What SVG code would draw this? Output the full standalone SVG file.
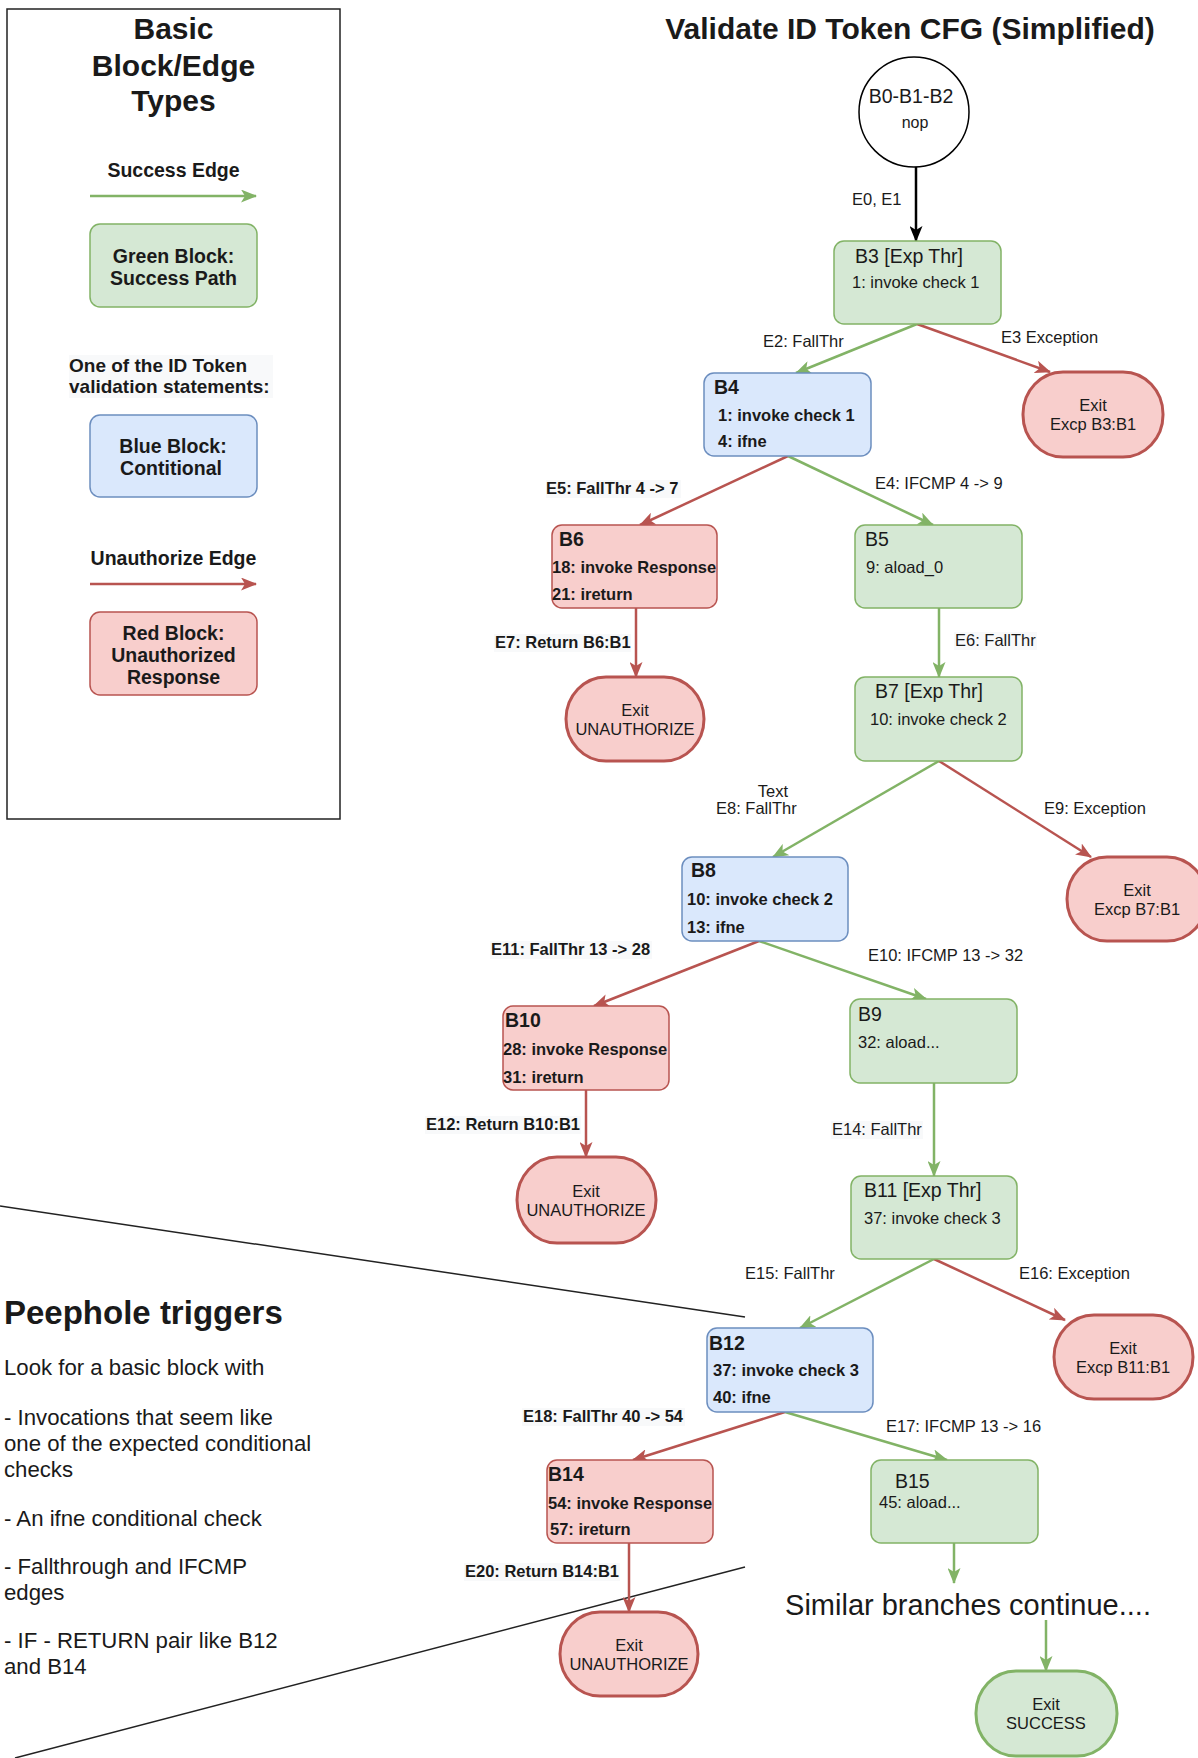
<svg xmlns="http://www.w3.org/2000/svg" width="1198" height="1758" viewBox="0 0 1198 1758">
  <style>
    text { font-family: "Liberation Sans", Arial, sans-serif; fill: #1a1a1a; }
    .h30 { font-size: 30px; font-weight: bold; }
    .lg { font-size: 19.5px; font-weight: bold; text-anchor: middle; }
    .lgl { font-size: 19px; font-weight: bold; }
    .bl { font-size: 19.5px; }
    .bb { font-size: 19.5px; font-weight: bold; }
    .s { font-size: 16.5px; }
    .sb { font-size: 16.5px; font-weight: bold; }
    .c { text-anchor: middle; }
    .pp { font-size: 22.2px; }
    .green { fill: #d5e8d4; stroke: #82b366; stroke-width: 1.5; }
    .blue { fill: #dae8fc; stroke: #6c8ebf; stroke-width: 1.5; }
    .red { fill: #f8cecc; stroke: #b85450; stroke-width: 1.5; }
    .xred { fill: #f8cecc; stroke: #b85450; stroke-width: 3; }
    .xgreen { fill: #d5e8d4; stroke: #82b366; stroke-width: 3; }
    .eg { stroke: #82b366; stroke-width: 2.5; fill: none; marker-end: url(#ag); }
    .er { stroke: #b85450; stroke-width: 2.5; fill: none; marker-end: url(#ar); }
    .ek { stroke: #000; stroke-width: 2.5; fill: none; marker-end: url(#ak); }
    .lbg { fill: #f8f9fa; }
  </style>
  <defs>
    <marker id="ag" viewBox="0 0 16 13" refX="15" refY="6.5" markerWidth="16" markerHeight="13" markerUnits="userSpaceOnUse" orient="auto">
      <path d="M0,0 L16,6.5 L0,13 L4,6.5 Z" fill="#82b366"/>
    </marker>
    <marker id="ar" viewBox="0 0 16 13" refX="15" refY="6.5" markerWidth="16" markerHeight="13" markerUnits="userSpaceOnUse" orient="auto">
      <path d="M0,0 L16,6.5 L0,13 L4,6.5 Z" fill="#b85450"/>
    </marker>
    <marker id="ak" viewBox="0 0 16 13" refX="15" refY="6.5" markerWidth="16" markerHeight="13" markerUnits="userSpaceOnUse" orient="auto">
      <path d="M0,0 L16,6.5 L0,13 L4,6.5 Z" fill="#000"/>
    </marker>
  </defs>

  <rect width="1198" height="1758" fill="#fff"/>

  <!-- Legend panel -->
  <g id="legend">
    <rect x="7" y="9" width="333" height="810" fill="none" stroke="#222" stroke-width="1.5"/>
    <text class="h30 c" x="173.5" y="39">Basic</text>
    <text class="h30 c" x="173.5" y="76">Block/Edge</text>
    <text class="h30 c" x="173.5" y="111">Types</text>

    <text class="lg" x="173.5" y="177">Success Edge</text>
    <line class="eg" x1="90" y1="196" x2="256" y2="196"/>
    <rect class="green" x="90" y="224" width="167" height="83" rx="10"/>
    <text class="lg" x="173.5" y="263">Green Block:</text>
    <text class="lg" x="173.5" y="285">Success Path</text>

    <rect class="lbg" x="69" y="355" width="204" height="43"/>
    <text class="lgl" x="69" y="372">One of the ID Token</text>
    <text class="lgl" x="69" y="393">validation statements:</text>
    <rect class="blue" x="90" y="415" width="167" height="82" rx="10"/>
    <text class="lg" x="173" y="453">Blue Block:</text>
    <text class="lg" x="171" y="475">Contitional</text>

    <text class="lg" x="173.5" y="565">Unauthorize Edge</text>
    <line class="er" x1="90" y1="584" x2="256" y2="584"/>
    <rect class="red" x="90" y="612" width="167" height="83" rx="10"/>
    <text class="lg" x="173.5" y="640">Red Block:</text>
    <text class="lg" x="173.5" y="662">Unauthorized</text>
    <text class="lg" x="173.5" y="684">Response</text>
  </g>

  <!-- Peephole notes and the wedge lines pointing at B12/B14 -->
  <g id="peephole">
    <line x1="0" y1="1206" x2="745" y2="1317" stroke="#222" stroke-width="1.5"/>
    <line x1="745" y1="1567" x2="15" y2="1758" stroke="#222" stroke-width="1.5"/>
    <text class="h30" x="4" y="1324" style="font-size:33px">Peephole triggers</text>
    <text class="pp" x="4" y="1375">Look for a basic block with</text>
    <text class="pp" x="4" y="1425">- Invocations that seem like</text>
    <text class="pp" x="4" y="1451">one of the expected conditional</text>
    <text class="pp" x="4" y="1477">checks</text>
    <text class="pp" x="4" y="1526">- An ifne conditional check</text>
    <text class="pp" x="4" y="1574">- Fallthrough and IFCMP</text>
    <text class="pp" x="4" y="1600">edges</text>
    <text class="pp" x="4" y="1648">- IF - RETURN pair like B12</text>
    <text class="pp" x="4" y="1674">and B14</text>
  </g>

  <text class="h30 c" x="910" y="39">Validate ID Token CFG (Simplified)</text>

  <!-- Connectors -->
  <g id="edges">
    <line class="ek" x1="916" y1="167" x2="916" y2="241"/>
    <line class="eg" x1="917" y1="324" x2="796" y2="373"/>
    <line class="er" x1="917" y1="324" x2="1050" y2="372"/>
    <line class="er" x1="788" y1="456" x2="640" y2="525"/>
    <line class="eg" x1="788" y1="456" x2="933" y2="525"/>
    <line class="er" x1="636" y1="608" x2="636" y2="677"/>
    <line class="eg" x1="939" y1="608" x2="939" y2="677"/>
    <line class="eg" x1="939" y1="761" x2="773" y2="857"/>
    <line class="er" x1="939" y1="761" x2="1091" y2="857"/>
    <line class="er" x1="759" y1="941" x2="594" y2="1006"/>
    <line class="eg" x1="759" y1="941" x2="926" y2="999"/>
    <line class="er" x1="586" y1="1090" x2="586" y2="1157"/>
    <line class="eg" x1="934" y1="1083" x2="934" y2="1176"/>
    <line class="eg" x1="934" y1="1259" x2="800" y2="1328"/>
    <line class="er" x1="934" y1="1259" x2="1065" y2="1320"/>
    <line class="er" x1="785" y1="1412" x2="633" y2="1460"/>
    <line class="eg" x1="785" y1="1412" x2="947" y2="1460"/>
    <line class="er" x1="629" y1="1543" x2="629" y2="1612"/>
    <line class="eg" x1="954" y1="1543" x2="954" y2="1583"/>
    <line class="eg" x1="1046" y1="1620" x2="1046" y2="1671"/>

    <!-- edge labels -->
    <text class="s" x="852" y="205">E0, E1</text>
    <text class="s" x="763" y="347">E2: FallThr</text>
    <text class="s" x="1001" y="343">E3 Exception</text>
    <rect class="lbg" x="546" y="480" width="135" height="18"/>
    <text class="sb" x="546" y="494">E5: FallThr 4 -&gt; 7</text>
    <text class="s" x="875" y="489">E4: IFCMP 4 -&gt; 9</text>
    <rect class="lbg" x="494" y="634" width="137" height="18"/>
    <text class="sb" x="495" y="648">E7: Return B6:B1</text>
    <rect class="lbg" x="954" y="632" width="83" height="18"/>
    <text class="s" x="955" y="646">E6: FallThr</text>
    <text class="s c" x="773" y="797">Text</text>
    <text class="s" x="716" y="814">E8: FallThr</text>
    <text class="s" x="1044" y="814">E9: Exception</text>
    <rect class="lbg" x="490" y="941" width="162" height="18"/>
    <text class="sb" x="491" y="955">E11: FallThr 13 -&gt; 28</text>
    <text class="s" x="868" y="961">E10: IFCMP 13 -&gt; 32</text>
    <rect class="lbg" x="425" y="1116" width="156" height="18"/>
    <text class="sb" x="426" y="1130">E12: Return B10:B1</text>
    <rect class="lbg" x="831" y="1121" width="92" height="18"/>
    <text class="s" x="832" y="1135">E14: FallThr</text>
    <text class="s" x="745" y="1279">E15: FallThr</text>
    <text class="s" x="1019" y="1279">E16: Exception</text>
    <rect class="lbg" x="522" y="1408" width="163" height="18"/>
    <text class="sb" x="523" y="1422">E18: FallThr 40 -&gt; 54</text>
    <text class="s" x="886" y="1432">E17: IFCMP 13 -&gt; 16</text>
    <rect class="lbg" x="464" y="1563" width="156" height="18"/>
    <text class="sb" x="465" y="1577">E20: Return B14:B1</text>
  </g>

  <!-- Blocks -->
  <g id="B0-B1-B2">
    <circle cx="914" cy="112" r="55" fill="#fff" stroke="#000" stroke-width="1.5"/>
    <text class="bl c" x="911" y="103">B0-B1-B2</text>
    <text class="s c" x="915" y="128" style="font-size:16px">nop</text>
  </g>

  <g id="B3">
    <rect class="green" x="834" y="241" width="167" height="83" rx="10"/>
    <text class="bl" x="855" y="263">B3 [Exp Thr]</text>
    <text class="s" x="852" y="288">1: invoke check 1</text>
  </g>

  <g id="exit-B3">
    <rect class="xred" x="1023" y="372" width="140" height="85" rx="40" ry="42"/>
    <text class="s c" x="1093" y="411">Exit</text>
    <text class="s c" x="1093" y="430">Excp B3:B1</text>
  </g>

  <g id="B4">
    <rect class="blue" x="704" y="373" width="167" height="83" rx="10"/>
    <text class="bb" x="714" y="394">B4</text>
    <text class="sb" x="718" y="421">1: invoke check 1</text>
    <text class="sb" x="718" y="447">4: ifne</text>
  </g>

  <g id="B6">
    <rect class="red" x="552" y="525" width="165" height="83" rx="10"/>
    <text class="bb" x="559" y="546">B6</text>
    <text class="sb" x="552" y="573">18: invoke Response</text>
    <text class="sb" x="552" y="600">21: ireturn</text>
  </g>

  <g id="B5">
    <rect class="green" x="855" y="525" width="167" height="83" rx="10"/>
    <text class="bl" x="865" y="546">B5</text>
    <text class="s" x="866" y="573">9: aload_0</text>
  </g>

  <g id="exit-B6">
    <rect class="xred" x="566" y="677" width="138" height="84" rx="40" ry="42"/>
    <text class="s c" x="635" y="716">Exit</text>
    <text class="s c" x="635" y="735">UNAUTHORIZE</text>
  </g>

  <g id="B7">
    <rect class="green" x="855" y="677" width="167" height="84" rx="10"/>
    <text class="bl" x="875" y="698">B7 [Exp Thr]</text>
    <text class="s" x="870" y="725">10: invoke check 2</text>
  </g>

  <g id="B8">
    <rect class="blue" x="682" y="857" width="166" height="84" rx="10"/>
    <text class="bb" x="691" y="877">B8</text>
    <text class="sb" x="687" y="905">10: invoke check 2</text>
    <text class="sb" x="687" y="933">13: ifne</text>
  </g>

  <g id="exit-B7">
    <rect class="xred" x="1067" y="857" width="140" height="84" rx="40" ry="42"/>
    <text class="s c" x="1137" y="896">Exit</text>
    <text class="s c" x="1137" y="915">Excp B7:B1</text>
  </g>

  <g id="B10">
    <rect class="red" x="503" y="1006" width="166" height="84" rx="10"/>
    <text class="bb" x="505" y="1027">B10</text>
    <text class="sb" x="503" y="1055">28: invoke Response</text>
    <text class="sb" x="503" y="1083">31: ireturn</text>
  </g>

  <g id="B9">
    <rect class="green" x="850" y="999" width="167" height="84" rx="10"/>
    <text class="bl" x="858" y="1021">B9</text>
    <text class="s" x="858" y="1048">32: aload...</text>
  </g>

  <g id="exit-B10">
    <rect class="xred" x="517" y="1157" width="139" height="86" rx="40" ry="43"/>
    <text class="s c" x="586" y="1197">Exit</text>
    <text class="s c" x="586" y="1216">UNAUTHORIZE</text>
  </g>

  <g id="B11">
    <rect class="green" x="851" y="1176" width="166" height="83" rx="10"/>
    <text class="bl" x="864" y="1197">B11 [Exp Thr]</text>
    <text class="s" x="864" y="1224">37: invoke check 3</text>
  </g>

  <g id="exit-B11">
    <rect class="xred" x="1054" y="1315" width="139" height="84" rx="40" ry="42"/>
    <text class="s c" x="1123" y="1354">Exit</text>
    <text class="s c" x="1123" y="1373">Excp B11:B1</text>
  </g>

  <g id="B12">
    <rect class="blue" x="707" y="1328" width="166" height="84" rx="10"/>
    <text class="bb" x="709" y="1350">B12</text>
    <text class="sb" x="713" y="1376">37: invoke check 3</text>
    <text class="sb" x="713" y="1403">40: ifne</text>
  </g>

  <g id="B14">
    <rect class="red" x="547" y="1460" width="166" height="83" rx="10"/>
    <text class="bb" x="548" y="1481">B14</text>
    <text class="sb" x="548" y="1509">54: invoke Response</text>
    <text class="sb" x="550" y="1535">57: ireturn</text>
  </g>

  <g id="B15">
    <rect class="green" x="871" y="1460" width="167" height="83" rx="10"/>
    <text class="bl" x="895" y="1488">B15</text>
    <text class="s" x="879" y="1508">45: aload...</text>
  </g>

  <g id="exit-B14">
    <rect class="xred" x="560" y="1612" width="138" height="84" rx="40" ry="42"/>
    <text class="s c" x="629" y="1651">Exit</text>
    <text class="s c" x="629" y="1670">UNAUTHORIZE</text>
  </g>

  <g id="continue">
    <text class="c" x="968" y="1615" style="font-size:29px">Similar branches continue....</text>
  </g>

  <g id="exit-success">
    <rect class="xgreen" x="976" y="1671" width="141" height="85" rx="40" ry="42"/>
    <text class="s c" x="1046" y="1710">Exit</text>
    <text class="s c" x="1046" y="1729">SUCCESS</text>
  </g>
</svg>
